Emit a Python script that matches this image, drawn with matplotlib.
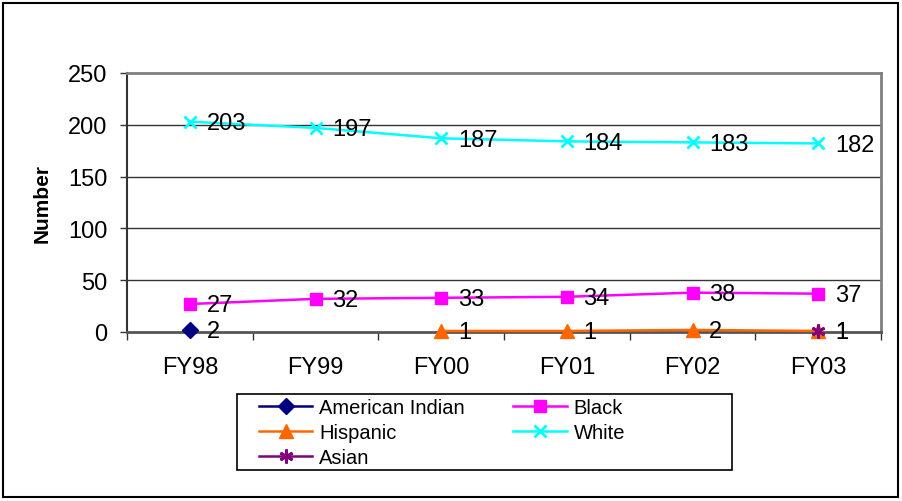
import numpy as np
import matplotlib
matplotlib.use("Agg")
import matplotlib.pyplot as plt
from matplotlib.patches import Rectangle

plt.rcParams['font.family'] = ['Liberation Sans', 'DejaVu Sans']

categories = ["FY98", "FY99", "FY00", "FY01", "FY02", "FY03"]
american_indian = [2, np.nan, np.nan, np.nan, np.nan, np.nan]
black = [27, 32, 33, 34, 38, 37]
hispanic = [np.nan, np.nan, 1, 1, 2, 1]
white = [203, 197, 187, 184, 183, 182]
asian = [np.nan, np.nan, np.nan, np.nan, np.nan, 1]

fig = plt.figure(figsize=(9.02, 5.02), dpi=100)
fig.patches.append(Rectangle((3/902, 4/502), 895/902, 494/502, transform=fig.transFigure,
                             fill=False, edgecolor='black', linewidth=1.5, zorder=0))
# legend frame
fig.patches.append(Rectangle((237/902, 1-471/502), 495/902, 76/502, transform=fig.transFigure,
                             fill=False, edgecolor='black', linewidth=1.2, zorder=0))
ax = fig.add_axes([127/902, 1-333/502, 754/902, 259/502])

x = np.arange(len(categories))
series = [
    ("American Indian", american_indian, '#000080', 'D', 8.5),
    ("Hispanic", hispanic, '#FF6600', '^', 9.5),
    ("Asian", asian, '#800080', (6, 2, 0), 10),
    ("Black", black, '#FF00FF', 's', 8.5),
    ("White", white, '#00FFFF', 'x', 9),
]
handles = []
for name, vals, col, mk, ms in series:
    v = np.array(vals, dtype=float)
    h, = ax.plot(x, v, color=col, marker=mk, markersize=ms, linewidth=1.8,
                 markeredgewidth=2 if mk in ('x',) or isinstance(mk, tuple) else 1,
                 markeredgecolor=col, markerfacecolor=col, label=name, zorder=3,
                 clip_on=False)
    handles.append(h)
    for xi, vi in zip(x, v):
        if not np.isnan(vi):
            ax.annotate(f"{int(vi)}", (xi, vi), xytext=(12, -1), textcoords='offset points',
                        va='center', ha='left', fontsize=17, zorder=4)

ax.set_xlim(-0.5, len(categories) - 0.5)
ax.set_ylim(0, 250)
ax.set_yticks(np.arange(0, 251, 50))
ax.set_xticks(x)
ax.set_xticklabels(categories, fontsize=17)
ax.set_xticks(np.arange(-0.5, len(categories)), minor=True)
ax.tick_params(axis='x', which='major', length=0, pad=17)
ax.tick_params(axis='x', which='minor', length=6, width=1, color='#333333', direction='out')
ax.tick_params(axis='y', labelsize=17, length=5, width=1, direction='out', pad=9, color='#333333')
for yv in [50, 100, 150, 200]:
    ax.axhline(yv, color='#333333', linewidth=1, zorder=1)

ax.spines['top'].set_color('#808080')
ax.spines['right'].set_color('#808080')
ax.spines['top'].set_linewidth(2)
ax.spines['right'].set_linewidth(2)
ax.spines['left'].set_color('#333333')
ax.spines['bottom'].set_color('#555555')
ax.spines['left'].set_linewidth(1.5)
ax.spines['bottom'].set_linewidth(2)

ax.set_ylabel("Number", fontsize=15, fontweight='bold')
ax.yaxis.set_label_coords(-0.1, 0.5)

leg = fig.legend(handles=handles, loc='upper left',
                 bbox_to_anchor=(259/902, 1-399/502),
                 ncol=2, fontsize=14.5, frameon=False, borderaxespad=0, borderpad=0,
                 handlelength=2.65, labelspacing=0.3, handletextpad=0.35, columnspacing=2.4)

fig.savefig("out.png", dpi=100)
